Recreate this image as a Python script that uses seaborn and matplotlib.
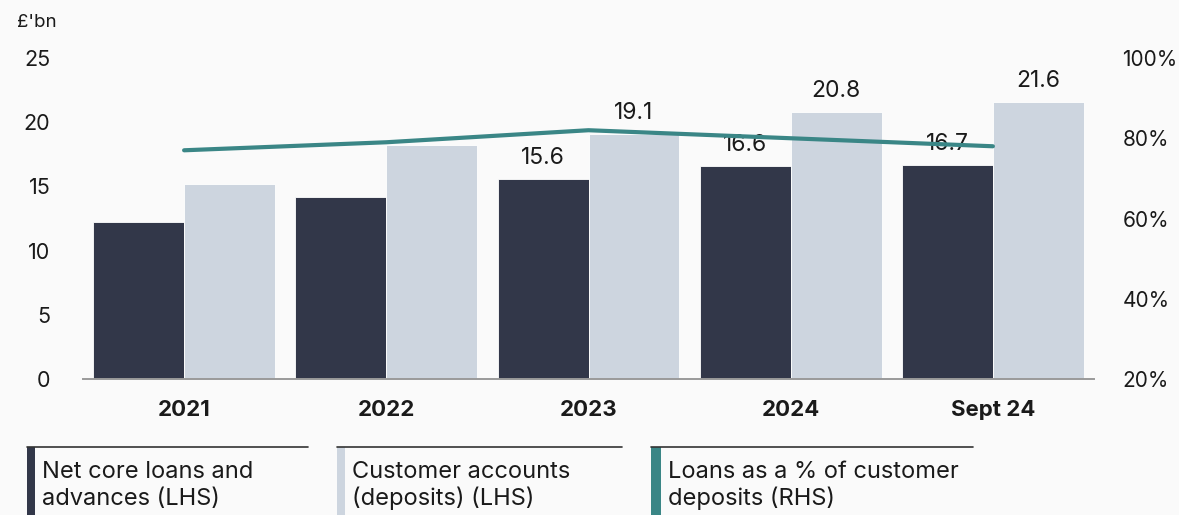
import numpy as np
import pandas as pd
import matplotlib
matplotlib.use("Agg")
import matplotlib.pyplot as plt
from matplotlib.lines import Line2D
from matplotlib.patches import Rectangle
import seaborn as sns

# --- data -------------------------------------------------------------
periods = ["2021", "2022", "2023", "2024", "Sept 24"]
net_core_loans = [12.2, 14.2, 15.6, 16.6, 16.7]        # £bn, LHS
customer_deposits = [15.2, 18.2, 19.1, 20.8, 21.6]     # £bn, LHS
loans_to_deposits = [77, 79, 82, 80, 78]               # %, RHS
labelled_from = 2  # value labels shown from the 2023 bar onwards

series_names = [("Net core loans and", "advances (LHS)"),
                ("Customer accounts", "(deposits) (LHS)"),
                ("Loans as a % of customer", "deposits (RHS)")]

left_ticks = [0, 5, 10, 15, 20, 25]
right_ticks = [20, 40, 60, 80, 100]

# --- style ------------------------------------------------------------
DARK = "#323749"
LIGHT = "#cdd5df"
TEAL = "#3a8686"
BG = "#fafafa"
TXT = "#1a1a1a"

sns.set_theme(style="white")
plt.rcParams["font.family"] = ["Inter", "DejaVu Sans"]

W, H = 1179, 515
fig = plt.figure(figsize=(W / 100, H / 100), dpi=100, facecolor=BG)


def fx(px):
    return px / W


def fy(py):
    return 1 - py / H


ax = fig.add_axes([fx(83), fy(379), fx(1094) - fx(83), fy(58) - fy(379)])
ax.set_facecolor(BG)

df = pd.DataFrame({
    "period": periods * 2,
    "value": net_core_loans + customer_deposits,
    "series": ["loans"] * len(periods) + ["deposits"] * len(periods),
})

sns.barplot(data=df, x="period", y="value", hue="series",
            palette=[DARK, LIGHT], width=0.9, gap=0, saturation=1,
            edgecolor="white", linewidth=0.6, legend=False, ax=ax)

ax.set_ylim(0, 25)
ax.set_xlim(-0.5, len(periods) - 0.5)
ax.set_yticks(left_ticks)
ax.set_xlabel("")
ax.set_ylabel("")
ax.tick_params(axis="y", length=0, pad=23.5, labelsize=15.5, labelcolor=TXT)
ax.tick_params(axis="x", length=0, pad=15, labelsize=16, labelcolor=TXT)
for lbl in ax.get_xticklabels():
    lbl.set_fontweight("bold")
for side in ["top", "left", "right"]:
    ax.spines[side].set_visible(False)
ax.spines["bottom"].set_color("#9a9a9a")
ax.spines["bottom"].set_linewidth(1.4)

# value labels on the later bars
for cont, vals in zip(ax.containers, [net_core_loans, customer_deposits]):
    labels = [f"{v:.1f}" if i >= labelled_from else "" for i, v in enumerate(vals)]
    ax.bar_label(cont, labels=labels, padding=7, fontsize=16.5, color=TXT,
                 clip_on=False)

# ratio line on the right axis
ax2 = ax.twinx()
sns.lineplot(x=np.arange(len(periods)), y=loans_to_deposits, color=TEAL,
             linewidth=3, ax=ax2, zorder=1)
ax2.set_ylim(20, 100)
ax2.set_yticks(right_ticks)
ax2.set_yticklabels([f"{t}%" for t in right_ticks])
ax2.tick_params(axis="y", length=0, pad=20.5, labelsize=15, labelcolor=TXT)
for side in ["top", "left", "right", "bottom"]:
    ax2.spines[side].set_visible(False)
ax2.set_xlim(ax.get_xlim())

fig.text(fx(17), fy(27), "£'bn", fontsize=13.5, color=TXT, va="baseline", ha="left")

# legend blocks below the chart
legend_boxes = [(27, 308, 8, DARK), (337, 622, 8, LIGHT), (651, 973, 10, TEAL)]
for (x0, x1, bw, col), lines in zip(legend_boxes, series_names):
    fig.add_artist(Line2D([fx(x0), fx(x1)], [fy(447), fy(447)],
                          color="#333333", linewidth=1.2,
                          transform=fig.transFigure))
    fig.add_artist(Rectangle((fx(x0), fy(H)), fx(bw), fy(447) - fy(H),
                             facecolor=col, edgecolor="none",
                             transform=fig.transFigure))
    for k, line in enumerate(lines):
        fig.text(fx(x0 + bw + 7), fy(478 + 27 * k), line, fontsize=17,
                 color=TXT, va="baseline", ha="left")

fig.savefig("out.png", dpi=100, facecolor=BG)
